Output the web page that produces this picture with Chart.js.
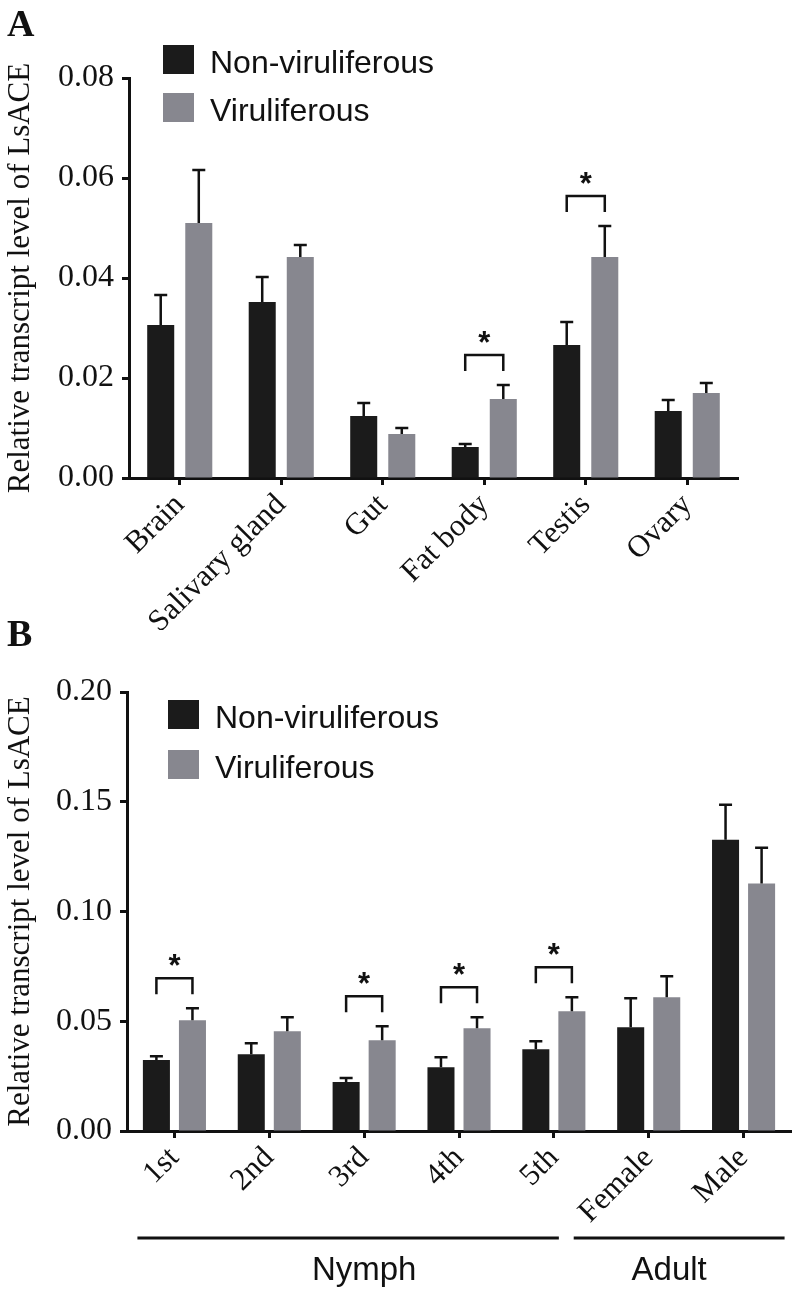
<!DOCTYPE html>
<html>
<head>
<meta charset="utf-8">
<script src="https://cdn.jsdelivr.net/npm/chart.js@4.4.1/dist/chart.umd.min.js"></script>
<style>
  body { margin: 0; background: #fff; }
  #page { position: relative; width: 792px; height: 1290px; overflow: hidden; }
  canvas { position: absolute; left: 0; }
  .panel {
    position: absolute;
    left: 7px;
    font: bold 38px "Liberation Serif", serif;
    line-height: 1;
    color: #111;
  }
</style>
</head>
<body>
<div id="page">
  <canvas id="chartA" width="792" height="630" style="top:0"></canvas>
  <canvas id="chartB" width="792" height="660" style="top:630px"></canvas>
  <div class="panel" style="top:4px">A</div>
  <div class="panel" style="top:614px">B</div>
</div>
<script>
// panel A - tissues
const tissues = ["Brain", "Salivary gland", "Gut", "Fat body", "Testis", "Ovary"];
const tissueNonVir = [0.0306, 0.0352, 0.0124, 0.0062, 0.0266, 0.0134];
const tissueNonVirErr = [0.006, 0.005, 0.0026, 0.0006, 0.0046, 0.0022];
const tissueVir = [0.051, 0.0442, 0.0088, 0.0158, 0.0442, 0.017];
const tissueVirErr = [0.0106, 0.0024, 0.0012, 0.0028, 0.0062, 0.002];
const tissueSig = [3, 4];
const tissueTicks = [0, 0.02, 0.04, 0.06, 0.08];

// panel B - developmental stages
const stages = ["1st", "2nd", "3rd", "4th", "5th", "Female", "Male"];
const stageNonVir = [0.0323, 0.035, 0.0223, 0.0291, 0.0373, 0.0473, 0.1327];
const stageNonVirErr = [0.0018, 0.005, 0.0018, 0.0045, 0.0036, 0.0132, 0.0159];
const stageVir = [0.0505, 0.0455, 0.0414, 0.0468, 0.0545, 0.0609, 0.1127];
const stageVirErr = [0.0054, 0.0063, 0.0063, 0.005, 0.0064, 0.0096, 0.0164];
const stageSig = [0, 2, 3, 4];
const stageTicks = [0, 0.05, 0.1, 0.15, 0.2];
const stageGroups = ["Nymph", "Adult"];
const stageGroupRanges = [[0, 4], [5, 6]];

const seriesNames = ["Non-viruliferous", "Viruliferous"];

const BLACK = "#1b1b1b";
const GRAY = "#87878f";
const INK = "#111";
const SERIF = '"Liberation Serif", "Times New Roman", serif';
const SANS = '"Liberation Sans", Arial, sans-serif';

// upper-only error bars with a cap
const errorBars = {
  id: "errorBars",
  afterDatasetsDraw(chart) {
    const { ctx } = chart;
    const yScale = chart.scales.y;
    ctx.save();
    ctx.strokeStyle = INK;
    ctx.lineWidth = 2.5;
    chart.data.datasets.forEach((ds, di) => {
      chart.getDatasetMeta(di).data.forEach((bar, i) => {
        const top = yScale.getPixelForValue(ds.data[i] + ds.errors[i]);
        ctx.beginPath();
        ctx.moveTo(bar.x, bar.y);
        ctx.lineTo(bar.x, top);
        ctx.moveTo(bar.x - 6.5, top);
        ctx.lineTo(bar.x + 6.5, top);
        ctx.stroke();
      });
    });
    ctx.restore();
  },
};

// bracket + asterisk over significant pairs
const sigMarks = {
  id: "sigMarks",
  afterDatasetsDraw(chart, args, opts) {
    const { ctx } = chart;
    const yScale = chart.scales.y;
    const [a, b] = chart.data.datasets;
    const metaA = chart.getDatasetMeta(0);
    const metaB = chart.getDatasetMeta(1);
    ctx.save();
    ctx.strokeStyle = INK;
    ctx.fillStyle = INK;
    ctx.lineWidth = 2.5;
    ctx.font = `bold 31px ${SANS}`;
    ctx.textAlign = "center";
    ctx.textBaseline = "alphabetic";
    opts.indexes.forEach((i) => {
      const x1 = metaA.data[i].x;
      const x2 = metaB.data[i].x;
      const top = Math.min(
        yScale.getPixelForValue(a.data[i] + a.errors[i]),
        yScale.getPixelForValue(b.data[i] + b.errors[i])
      );
      const legBottom = top - 14;
      const barTop = legBottom - 16;
      ctx.beginPath();
      ctx.moveTo(x1, legBottom);
      ctx.lineTo(x1, barTop);
      ctx.lineTo(x2, barTop);
      ctx.lineTo(x2, legBottom);
      ctx.stroke();
      ctx.fillText("*", (x1 + x2) / 2, barTop - 2);
    });
    ctx.restore();
  },
};

// square legend drawn inside the plot
const boxLegend = {
  id: "boxLegend",
  afterDraw(chart, args, opts) {
    const { ctx } = chart;
    ctx.save();
    ctx.font = `32px ${SANS}`;
    ctx.textBaseline = "alphabetic";
    chart.data.datasets.forEach((ds, i) => {
      const y = opts.y + i * opts.gap;
      ctx.fillStyle = ds.backgroundColor;
      ctx.fillRect(opts.x, y, 31, 29);
      ctx.fillStyle = INK;
      ctx.fillText(ds.label, opts.x + 47, y + 27.5);
    });
    ctx.restore();
  },
};

// Nymph / Adult lines under the stage labels
const groupLines = {
  id: "groupLines",
  afterDraw(chart, args, opts) {
    if (!opts.names) return;
    const { ctx } = chart;
    const xScale = chart.scales.x;
    ctx.save();
    ctx.strokeStyle = INK;
    ctx.fillStyle = INK;
    ctx.lineWidth = 3;
    ctx.font = `33px ${SANS}`;
    ctx.textAlign = "center";
    opts.names.forEach((name, g) => {
      const [first, last] = opts.ranges[g];
      const [lead, trail, textOff] = opts.spans[g];
      const p1 = xScale.getPixelForValue(first);
      const p2 = xScale.getPixelForValue(last);
      ctx.beginPath();
      ctx.moveTo(p1 + lead, opts.lineY);
      ctx.lineTo(p2 + trail, opts.lineY);
      ctx.stroke();
      ctx.fillText(name, (p1 + p2) / 2 + textOff, opts.textY);
    });
    ctx.restore();
  },
};

function makeChart(id, cfg) {
  const barOpts = { categoryPercentage: cfg.catPct, barPercentage: cfg.barPct };
  return new Chart(document.getElementById(id), {
    type: "bar",
    data: {
      labels: cfg.labels,
      datasets: [
        { label: seriesNames[0], data: cfg.non, errors: cfg.nonErr, backgroundColor: BLACK, ...barOpts },
        { label: seriesNames[1], data: cfg.vir, errors: cfg.virErr, backgroundColor: GRAY, ...barOpts },
      ],
    },
    options: {
      responsive: false,
      animation: false,
      events: [],
      layout: { padding: { top: cfg.top, right: cfg.right, left: 0, bottom: 0 } },
      plugins: {
        legend: { display: false },
        tooltip: { enabled: false },
        sigMarks: { indexes: cfg.sig },
        boxLegend: cfg.legend,
        groupLines: cfg.groups || {},
      },
      scales: {
        x: {
          offset: true,
          grid: {
            offset: false,
            drawOnChartArea: false,
            drawTicks: true,
            tickLength: 7,
            tickWidth: 3,
            tickColor: INK,
          },
          border: { display: true, color: INK, width: 3 },
          ticks: {
            color: INK,
            font: { family: SERIF, size: 31 },
            minRotation: 45,
            maxRotation: 45,
            autoSkip: false,
            padding: 2,
          },
          afterFit(scale) {
            scale.height = cfg.xHeight;
          },
        },
        y: {
          min: cfg.ticks[0],
          max: cfg.ticks[cfg.ticks.length - 1],
          ticks: {
            stepSize: cfg.ticks[1] - cfg.ticks[0],
            color: INK,
            font: { family: SERIF, size: 32 },
            padding: 8,
            callback: (v) => v.toFixed(2),
          },
          grid: {
            drawOnChartArea: false,
            tickLength: 7,
            tickWidth: 3,
            tickColor: INK,
          },
          border: { display: true, color: INK, width: 3 },
          title: {
            display: true,
            text: "Relative transcript level of LsACE",
            color: INK,
            font: { family: SERIF, size: 31 },
            padding: { top: 2, bottom: 0 },
          },
          afterFit(scale) {
            scale.width = cfg.yWidth;
          },
        },
      },
    },
    plugins: [errorBars, sigMarks, boxLegend, groupLines],
  });
}

makeChart("chartA", {
  labels: tissues,
  non: tissueNonVir,
  nonErr: tissueNonVirErr,
  vir: tissueVir,
  virErr: tissueVirErr,
  sig: tissueSig,
  ticks: tissueTicks,
  top: 78,
  right: 54,
  yWidth: 129,
  xHeight: 152,
  catPct: 0.75,
  barPct: 0.71,
  legend: { x: 163, y: 45, gap: 48 },
});

makeChart("chartB", {
  labels: stages,
  non: stageNonVir,
  nonErr: stageNonVirErr,
  vir: stageVir,
  virErr: stageVirErr,
  sig: stageSig,
  ticks: stageTicks,
  top: 62,
  right: 1,
  yWidth: 127,
  xHeight: 159,
  catPct: 0.76,
  barPct: 0.75,
  legend: { x: 168, y: 70, gap: 50 },
  groups: {
    names: stageGroups,
    ranges: stageGroupRanges,
    spans: [[-37, 5, 0], [-75, 41, -27]],
    lineY: 608,
    textY: 650,
  },
});
</script>
</body>
</html>
